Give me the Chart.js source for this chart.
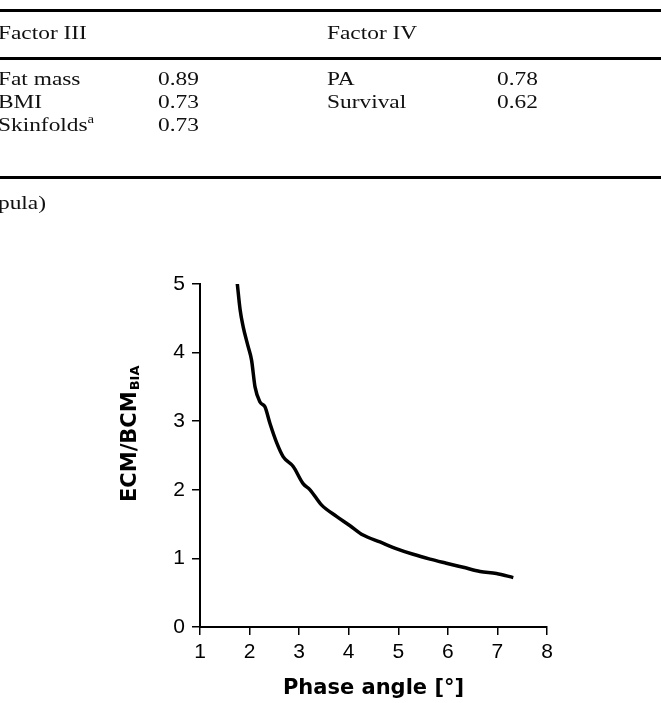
<!DOCTYPE html>
<html>
<head>
<meta charset="utf-8">
<script src="https://cdn.jsdelivr.net/npm/chart.js@4.4.1/dist/chart.umd.min.js"></script>
<style>
html,body{margin:0;padding:0;background:#fff;width:661px;height:703px;overflow:hidden;}
#wrap{position:relative;width:661px;height:703px;}
#c{position:absolute;left:0;top:0;}
.rule{position:absolute;left:0;width:661px;height:2.5px;background:#000;}
.t{position:absolute;font-family:"Liberation Serif","Times New Roman",serif;font-size:19px;line-height:19px;color:#111;white-space:nowrap;transform:scaleX(1.23);transform-origin:0 0;}
.t sup{font-size:12px;line-height:0;vertical-align:0;position:relative;top:-8px;}
</style>
</head>
<body>
<div id="wrap">
  <canvas id="c" width="661" height="703"></canvas>
  <div class="rule" style="top:9px"></div>
  <div class="rule" style="top:57px"></div>
  <div class="rule" style="top:176px"></div>
  <div id="table"></div>
</div>
<script>
// ---- table text ----
const tableHeaders = ['Factor III', 'Factor IV'];
const factor3Vars = ['Fat mass', 'BMI', 'Skinfolds'];
const factor3Notes = ['', '', 'a'];
const factor3Loadings = ['0.89', '0.73', '0.73'];
const factor4Vars = ['PA', 'Survival'];
const factor4Loadings = ['0.78', '0.62'];
const footnoteText = 'pula)';

// ---- chart data ----
const phaseAngle = [1.75, 1.81, 1.87, 1.97, 2.04, 2.11, 2.21, 2.31, 2.41, 2.55, 2.68, 2.88, 3.08, 3.22, 3.45, 3.76, 4.02, 4.29, 4.63, 4.97, 5.30, 5.64, 5.97, 6.31, 6.65, 6.98, 7.32];
const ecmBcmRatio = [5.02, 4.62, 4.38, 4.09, 3.89, 3.50, 3.28, 3.21, 2.97, 2.68, 2.48, 2.34, 2.09, 2.00, 1.78, 1.61, 1.48, 1.34, 1.24, 1.14, 1.06, 0.99, 0.93, 0.87, 0.81, 0.78, 0.72];
const xTicks = [1, 2, 3, 4, 5, 6, 7, 8];
const yTicks = [0, 1, 2, 3, 4, 5];
const xTitle = 'Phase angle [°]';
const yTitleMain = 'ECM/BCM';
const yTitleSub = 'BIA';

// ---- build table ----
const table = document.getElementById('table');
function addText(html, left, top) {
  const d = document.createElement('div');
  d.className = 't';
  d.style.left = left + 'px';
  d.style.top = top + 'px';
  d.innerHTML = html;
  table.appendChild(d);
}
const colLeft = [-2, 158, 327, 497];
const rowTop = [69, 92, 115];
addText(tableHeaders[0], colLeft[0], 23);
addText(tableHeaders[1], colLeft[2], 23);
factor3Vars.forEach((v, i) => {
  addText(v + (factor3Notes[i] ? '<sup>' + factor3Notes[i] + '</sup>' : ''), colLeft[0], rowTop[i]);
  addText(factor3Loadings[i], colLeft[1], rowTop[i]);
});
factor4Vars.forEach((v, i) => {
  addText(v, colLeft[2], rowTop[i]);
  addText(factor4Loadings[i], colLeft[3], rowTop[i]);
});
addText(footnoteText, colLeft[0], 193);

// ---- chart ----
const target = {left: 200, right: 547, top: 284, bottom: 627};

const yTitlePlugin = {
  id: 'yTitle',
  afterDraw(chart) {
    const ctx = chart.ctx;
    ctx.save();
    ctx.translate(136, 502);
    ctx.rotate(-Math.PI / 2);
    ctx.fillStyle = '#000';
    ctx.textAlign = 'left';
    ctx.textBaseline = 'alphabetic';
    ctx.font = 'bold 21px "DejaVu Sans"';
    ctx.fillText(yTitleMain, 0, 0);
    const w = ctx.measureText(yTitleMain).width;
    ctx.font = 'bold 13px "DejaVu Sans"';
    ctx.fillText(yTitleSub, w + 1, 3);
    ctx.restore();
  }
};

const tickFont = {family: '"Liberation Sans", Arial, sans-serif', size: 21};
const chart = new Chart(document.getElementById('c'), {
  type: 'line',
  data: {
    datasets: [{
      data: phaseAngle.map((x, i) => ({x: x, y: ecmBcmRatio[i]})),
      borderColor: '#000',
      borderWidth: 3.5,
      pointRadius: 0,
      fill: false,
      cubicInterpolationMode: 'monotone'
    }]
  },
  options: {
    responsive: false,
    animation: false,
    layout: {padding: {top: 284, left: 0, right: 114, bottom: 0}},
    plugins: {legend: {display: false}, tooltip: {enabled: false}},
    scales: {
      x: {
        type: 'linear', min: xTicks[0], max: xTicks[xTicks.length - 1],
        afterBuildTicks: s => { s.ticks = xTicks.map(v => ({value: v})); },
        ticks: {color: '#000', font: tickFont, padding: 5, maxRotation: 0},
        grid: {drawOnChartArea: false, drawTicks: true, tickLength: 8, color: '#000', lineWidth: 1.5},
        border: {color: '#000', width: 2},
        title: {display: true, text: xTitle, color: '#000', font: {family: '"DejaVu Sans"', size: 21, weight: 'bold'}, padding: {top: 6, bottom: 0}}
      },
      y: {
        type: 'linear', min: yTicks[0], max: yTicks[yTicks.length - 1],
        afterBuildTicks: s => { s.ticks = yTicks.map(v => ({value: v})); },
        ticks: {color: '#000', font: tickFont, padding: 7},
        grid: {drawOnChartArea: false, drawTicks: true, tickLength: 8, color: '#000', lineWidth: 1.5},
        border: {color: '#000', width: 2}
      }
    }
  },
  plugins: [yTitlePlugin]
});
const ca = chart.chartArea;
const pad = chart.options.layout.padding;
pad.top += target.top - ca.top;
pad.left += target.left - ca.left;
pad.right += ca.right - target.right;
pad.bottom += ca.bottom - target.bottom;
chart.update();
</script>
</body>
</html>
